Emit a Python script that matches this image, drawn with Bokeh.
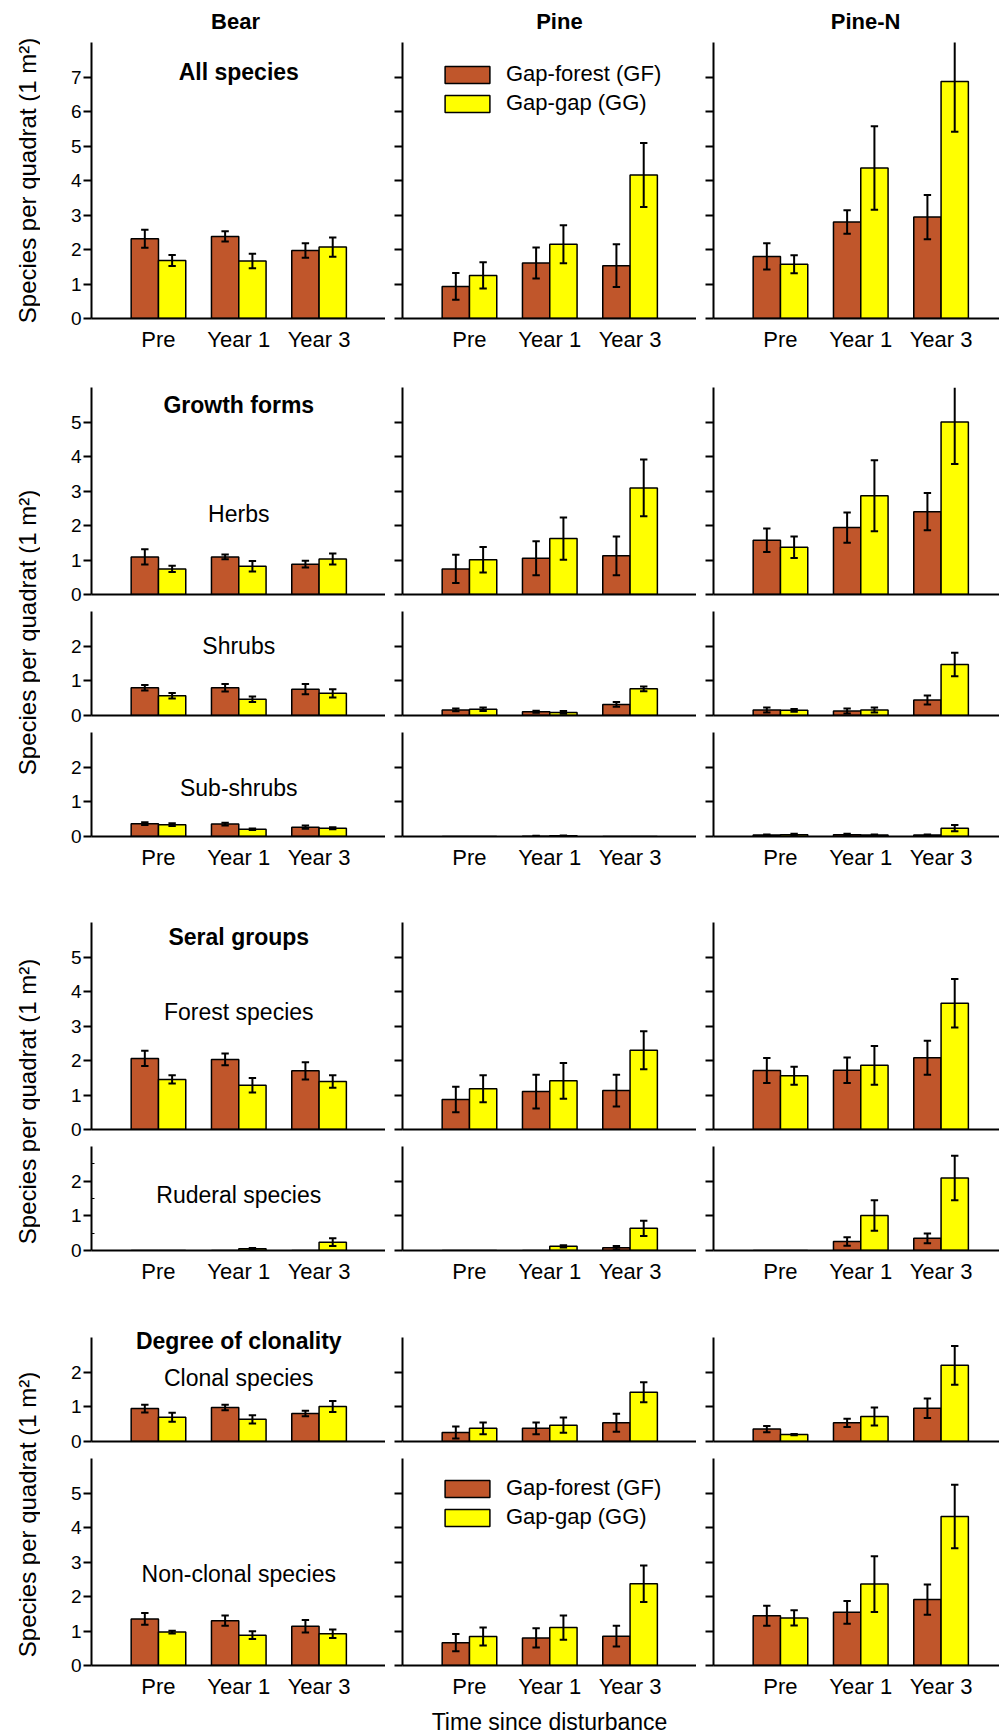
import math

from bokeh.core.properties import value
from bokeh.embed import file_html
from bokeh.layouts import column, row
from bokeh.models import FixedTicker, Label, Legend, LegendItem, Range1d
from bokeh.plotting import figure
from bokeh.resources import INLINE

FONT = "Liberation Sans"
GF_COLOR = "#C0562B"
GG_COLOR = "#FFFF00"

sites = ["Bear", "Pine", "Pine-N"]
times = ["Pre", "Year 1", "Year 3"]
series = ["Gap-forest (GF)", "Gap-gap (GG)"]

# Mean species per quadrat and standard errors, one inner list per site
# (Bear, Pine, Pine-N), values ordered Pre, Year 1, Year 3.
all_gf = [[2.31, 2.38, 1.97], [0.93, 1.61, 1.53], [1.80, 2.80, 2.94]]
all_gf_se = [[0.26, 0.15, 0.21], [0.39, 0.45, 0.62], [0.38, 0.34, 0.64]]
all_gg = [[1.68, 1.67, 2.07], [1.25, 2.15, 4.16], [1.57, 4.36, 6.87]]
all_gg_se = [[0.16, 0.21, 0.28], [0.38, 0.55, 0.93], [0.26, 1.21, 1.46]]

herbs_gf = [[1.09, 1.09, 0.88], [0.74, 1.05, 1.12], [1.57, 1.94, 2.40]]
herbs_gf_se = [[0.22, 0.07, 0.10], [0.41, 0.49, 0.56], [0.34, 0.44, 0.54]]
herbs_gg = [[0.74, 0.82, 1.03], [1.01, 1.62, 3.09], [1.37, 2.86, 5.00]]
herbs_gg_se = [[0.09, 0.15, 0.16], [0.37, 0.61, 0.82], [0.31, 1.03, 1.22]]

shrubs_gf = [[0.80, 0.80, 0.76], [0.16, 0.11, 0.32], [0.16, 0.13, 0.45]]
shrubs_gf_se = [[0.08, 0.11, 0.15], [0.04, 0.03, 0.07], [0.07, 0.07, 0.13]]
shrubs_gg = [[0.57, 0.47, 0.64], [0.18, 0.09, 0.77], [0.15, 0.16, 1.47]]
shrubs_gg_se = [[0.08, 0.08, 0.12], [0.05, 0.04, 0.07], [0.04, 0.07, 0.34]]

subshrubs_gf = [[0.37, 0.36, 0.27], [0.0, 0.01, 0.0], [0.04, 0.05, 0.04]]
subshrubs_gf_se = [[0.04, 0.04, 0.05], [0.0, 0.01, 0.0], [0.02, 0.03, 0.02]]
subshrubs_gg = [[0.34, 0.21, 0.24], [0.0, 0.02, 0.0], [0.05, 0.04, 0.24]]
subshrubs_gg_se = [[0.04, 0.02, 0.03], [0.0, 0.01, 0.0], [0.03, 0.02, 0.09]]

forest_gf = [[2.06, 2.03, 1.70], [0.87, 1.10, 1.13], [1.71, 1.72, 2.08]]
forest_gf_se = [[0.22, 0.17, 0.25], [0.37, 0.49, 0.46], [0.36, 0.37, 0.49]]
forest_gg = [[1.45, 1.28, 1.39], [1.18, 1.41, 2.30], [1.56, 1.86, 3.66]]
forest_gg_se = [[0.12, 0.21, 0.18], [0.39, 0.52, 0.55], [0.26, 0.56, 0.70]]

ruderal_gf = [[0.0, 0.0, 0.0], [0.0, 0.0, 0.08], [0.0, 0.26, 0.35]]
ruderal_gf_se = [[0.0, 0.0, 0.0], [0.0, 0.0, 0.05], [0.0, 0.12, 0.14]]
ruderal_gg = [[0.0, 0.05, 0.24], [0.0, 0.12, 0.64], [0.0, 1.01, 2.09]]
ruderal_gg_se = [[0.0, 0.02, 0.11], [0.0, 0.03, 0.22], [0.0, 0.44, 0.64]]

clonal_gf = [[0.95, 0.98, 0.81], [0.26, 0.38, 0.54], [0.36, 0.54, 0.96]]
clonal_gf_se = [[0.11, 0.08, 0.08], [0.17, 0.17, 0.26], [0.09, 0.12, 0.28]]
clonal_gg = [[0.70, 0.64, 1.01], [0.38, 0.47, 1.42], [0.20, 0.72, 2.20]]
clonal_gg_se = [[0.13, 0.12, 0.16], [0.17, 0.22, 0.29], [0.02, 0.26, 0.56]]

nonclonal_gf = [[1.35, 1.30, 1.14], [0.66, 0.80, 0.85], [1.44, 1.54, 1.91]]
nonclonal_gf_se = [[0.17, 0.15, 0.18], [0.25, 0.28, 0.30], [0.29, 0.33, 0.44]]
nonclonal_gg = [[0.97, 0.88, 0.92], [0.84, 1.10, 2.37], [1.38, 2.36, 4.32]]
nonclonal_gg_se = [[0.04, 0.11, 0.12], [0.26, 0.35, 0.53], [0.22, 0.81, 0.92]]

# Geometry of the panel grid (pixels)
PX_PER_UNIT = 34.5     # pixels per species on every y axis
X_PX = 80.3            # pixels per category step
X_START = 0.166        # left end of every x range
BAR_W = 0.34
BAR_OFF = 0.17
CAP = 0.046
COL_LEFT = [51, 17, 17]
COL_FRAME = [294, 294, 286]
STRIP_W = 40

# name, data, y max, axis height, room above the axis inside the frame,
# top border, bottom border, x labels, heading (bold), heading y,
# group label, group label y
panels = [
    ("all", (all_gf, all_gf_se, all_gg, all_gg_se), 8, 276, 42, 0, 42, True,
     "All species", 7.14, None, None),
    ("herbs", (herbs_gf, herbs_gf_se, herbs_gg, herbs_gg_se), 6, 207, 0, 27, 12, False,
     "Growth forms", 5.48, "Herbs", 2.34),
    ("shrubs", (shrubs_gf, shrubs_gf_se, shrubs_gg, shrubs_gg_se), 3, 104, 0, 5, 12, False,
     None, None, "Shrubs", 2.0),
    ("subshrubs", (subshrubs_gf, subshrubs_gf_se, subshrubs_gg, subshrubs_gg_se), 3, 104, 0, 5, 44, True,
     None, None, "Sub-shrubs", 1.4),
    ("forest", (forest_gf, forest_gf_se, forest_gg, forest_gg_se), 6, 207, 0, 42, 12, False,
     "Seral groups", 5.57, "Forest species", 3.4),
    ("ruderal", (ruderal_gf, ruderal_gf_se, ruderal_gg, ruderal_gg_se), 3, 104, 0, 5, 45, True,
     None, None, "Ruderal species", 1.6),
    ("clonal", (clonal_gf, clonal_gf_se, clonal_gg, clonal_gg_se), 3, 104, 16, 26, 12, False,
     "Degree of clonality", 2.91, "Clonal species", 1.82),
    ("nonclonal", (nonclonal_gf, nonclonal_gf_se, nonclonal_gg, nonclonal_gg_se), 6, 207, 0, 5, 70, True,
     None, None, "Non-clonal species", 2.64),
]


def error_bars(p, xs, means, ses, ymax):
    kw = dict(line_color="black", line_width=2)
    stems = [(x, m - s, min(m + s, ymax), m + s <= ymax)
             for x, m, s in zip(xs, means, ses) if m > 0]
    if not stems:
        return
    xe = [s[0] for s in stems]
    lo = [s[1] for s in stems]
    hi = [s[2] for s in stems]
    p.segment(x0=xe, y0=lo, x1=xe, y1=hi, **kw)
    p.segment(x0=[x - CAP for x in xe], y0=lo, x1=[x + CAP for x in xe], y1=lo, **kw)
    capped = [s for s in stems if s[3]]
    p.segment(x0=[s[0] - CAP for s in capped], y0=[s[2] for s in capped],
              x1=[s[0] + CAP for s in capped], y1=[s[2] for s in capped], **kw)


def label(p, x, y, text, size, bold=False):
    p.add_layout(Label(x=x, y=y, text=text, text_align="center", text_baseline="middle",
                       text_font=FONT, text_font_size=size,
                       text_font_style="bold" if bold else "normal", text_color="black"))


def make_panel(site, spec):
    (name, data, ymax, axis_h, room, top_b, bottom_b, xlabels,
     heading, heading_y, group, group_y) = spec
    gf, gf_se, gg, gg_se = [d[site] for d in data]
    frame_w = COL_FRAME[site]
    frame_h = axis_h + room
    p = figure(frame_width=frame_w, frame_height=frame_h,
               x_range=Range1d(X_START, X_START + frame_w / X_PX),
               y_range=Range1d(0, ymax + room / PX_PER_UNIT),
               output_backend="svg", toolbar_location=None, title=None,
               min_border_left=COL_LEFT[site], min_border_right=0,
               min_border_top=top_b, min_border_bottom=bottom_b)
    p.xgrid.visible = False
    p.ygrid.visible = False
    p.outline_line_color = None

    yax = p.yaxis[0]
    yax.bounds = (0, ymax)
    if name == "ruderal" and site == 0:
        yax.ticker = FixedTicker(ticks=list(range(ymax)), minor_ticks=[0.5, 1.5, 2.5])
        yax.minor_tick_in = 3
        yax.minor_tick_out = 0
        yax.minor_tick_line_color = "black"
        yax.minor_tick_line_width = 1
    else:
        yax.ticker = FixedTicker(ticks=list(range(ymax)))
        yax.minor_tick_line_color = None
    yax.axis_line_width = 2
    yax.axis_line_color = "black"
    yax.major_tick_line_width = 2
    yax.major_tick_line_color = "black"
    yax.major_tick_out = 8
    yax.major_tick_in = 0
    yax.major_label_standoff = 2
    yax.major_label_text_font = FONT
    if site == 0:
        yax.major_label_text_font_size = "19px"
        yax.major_label_text_color = "black"
    else:
        yax.major_label_text_font_size = "0px"
        yax.major_label_text_color = None

    xax = p.xaxis[0]
    xax.ticker = FixedTicker(ticks=[1, 2, 3])
    xax.major_label_overrides = {1: times[0], 2: times[1], 3: times[2]}
    xax.axis_line_width = 2
    xax.axis_line_color = "black"
    xax.major_tick_line_color = None
    xax.minor_tick_line_color = None
    xax.major_tick_out = 0
    xax.major_tick_in = 0
    xax.major_label_text_font = FONT
    if xlabels:
        xax.major_label_text_font_size = "22px"
        xax.major_label_text_color = "black"
        xax.major_label_standoff = 8
    else:
        xax.major_label_text_font_size = "0px"
        xax.major_label_text_color = None
        xax.major_label_standoff = 0

    xs = [1, 2, 3]
    x_gf = [x - BAR_OFF for x in xs]
    x_gg = [x + BAR_OFF for x in xs]
    r_gf = p.vbar(x=x_gf, top=gf, bottom=0, width=BAR_W, fill_color=GF_COLOR,
                  line_color="black", line_width=1.5)
    r_gg = p.vbar(x=x_gg, top=gg, bottom=0, width=BAR_W, fill_color=GG_COLOR,
                  line_color="black", line_width=1.5)
    error_bars(p, x_gf, gf, gf_se, ymax)
    error_bars(p, x_gg, gg, gg_se, ymax)

    if site == 0:
        if heading:
            label(p, 2.0, heading_y, heading, "23px", bold=True)
        if group:
            label(p, 2.0, group_y, group, "23px")

    if site == 1 and name in ("all", "nonclonal"):
        item_h = 25
        spacing = 3
        legend_h = 2 * item_h + spacing
        top_gap = 21 if name == "all" else 19
        legend = Legend(
            items=[LegendItem(label=series[0], renderers=[r_gf]),
                   LegendItem(label=series[1], renderers=[r_gg])],
            location=(37, axis_h - top_gap - legend_h),
            glyph_width=56, glyph_height=21, label_standoff=11, spacing=spacing,
            padding=0, margin=0, border_line_color=None, background_fill_alpha=0,
            label_text_font=FONT, label_text_font_size="22px", label_height=21,
            label_text_color="black")
        p.add_layout(legend)

    if name == "all":
        title_x = [1.96, 2.12, 2.06][site]
        label(p, title_x, ymax + 21 / PX_PER_UNIT, sites[site], "22px", bold=True)

    if name == "nonclonal" and site == 1:
        xax.axis_label = "Time since disturbance"
        xax.axis_label_text_font = FONT
        xax.axis_label_text_font_size = "23px"
        xax.axis_label_text_font_style = "normal"
        xax.axis_label_text_color = "black"
        xax.axis_label_standoff = 7

    return p


rows = [row(*[make_panel(s, spec) for s in range(3)]) for spec in panels]
grid = column(*rows)

# Left strip carrying the shared y-axis titles of each block of panels
total_h = 1735
strip = figure(width=STRIP_W, height=total_h, x_range=Range1d(0, STRIP_W),
               y_range=Range1d(0, total_h), output_backend="svg",
               toolbar_location=None, title=None, x_axis_type=None, y_axis_type=None,
               min_border_left=0, min_border_right=0, min_border_top=0, min_border_bottom=0)
strip.xgrid.visible = False
strip.ygrid.visible = False
strip.outline_line_color = None
ylabel_centres = [180, 632, 1101, 1514]
strip.text(x=[27] * 4, y=[total_h - c for c in ylabel_centres],
           text=["Species per quadrat (1 m²)"] * 4, angle=math.pi / 2,
           text_align="center", text_baseline="middle",
           text_font=value(FONT), text_font_size="24px", text_color="black")

page = row(strip, grid)

with open("out.html", "w") as f:
    f.write(file_html(page, INLINE, title="Species per quadrat"))
